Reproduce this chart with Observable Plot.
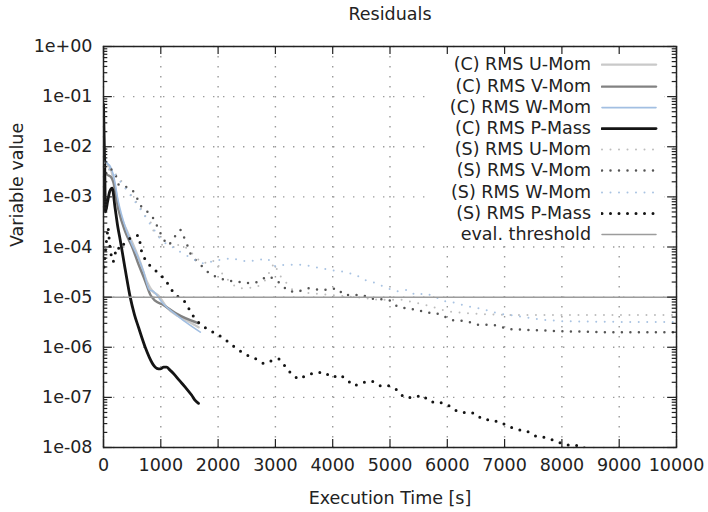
<!DOCTYPE html>
<html>
<head>
<meta charset="utf-8">
<script src="https://cdn.jsdelivr.net/npm/d3@7"></script>
<script src="https://cdn.jsdelivr.net/npm/@observablehq/plot@0.6"></script>
<style>
  body { margin: 0; background: #fff; }
  #wrap { position: relative; width: 708px; height: 512px; font-family: "DejaVu Sans", sans-serif; color: #222; }
  #legend { position: absolute; left: 432px; top: 54px; width: 232px; height: 190px; background: #fff; }
  .row { position: absolute; left: 0; height: 21.2px; width: 232px; }
  .row span { position: absolute; right: 73px; top: 0; line-height: 21.2px; font-size: 17.5px; white-space: nowrap; }
  .row svg { position: absolute; left: 169px; top: 0; }
</style>
</head>
<body>
<div id="wrap"><div id="legend"></div></div>
<script>
// ---------- data ----------
const title = "Residuals";
const xLabel = "Execution Time [s]";
const yLabel = "Variable value";
const xTicks = [0, 1000, 2000, 3000, 4000, 5000, 6000, 7000, 8000, 9000, 10000];
const yTicks = [1e-8, 1e-7, 1e-6, 1e-5, 1e-4, 1e-3, 1e-2, 1e-1, 1];
const threshold = 1e-5;

const cUMomT = [0, 60, 130, 200, 280, 400, 520, 640, 760, 860, 950, 1100, 1300, 1500, 1660];
const cUMomV = [5.0e-3, 4.5e-3, 3.5e-3, 1.6e-3, 5.0e-4, 2.2e-4, 1.1e-4, 5.0e-5, 2.0e-5, 1.3e-5, 1.1e-5, 6.3e-6, 4.2e-6, 3.2e-6, 2.5e-6];

const cVMomT = [0, 60, 130, 170, 260, 380, 500, 611, 720, 820, 900, 1030, 1256, 1430, 1660];
const cVMomV = [3.5e-3, 2.8e-3, 2.5e-3, 2.0e-3, 5.6e-4, 2.0e-4, 1.0e-4, 4.5e-5, 2.2e-5, 1.1e-5, 8.5e-6, 7.1e-6, 4.8e-6, 3.8e-6, 3.0e-6];

const cWMomT = [0, 50, 120, 170, 260, 380, 500, 600, 700, 800, 873, 930, 1030, 1256, 1430, 1690];
const cWMomV = [7.9e-3, 5.0e-3, 4.0e-3, 2.8e-3, 7.9e-4, 2.5e-4, 1.1e-4, 6.3e-5, 3.2e-5, 1.4e-5, 1.3e-5, 1.1e-5, 7.6e-6, 4.6e-6, 3.2e-6, 2.0e-6];

const cPMassT = [0, 20, 35, 70, 110, 152, 200, 250, 291, 380, 466, 540, 611, 728, 800, 873, 930, 990, 1050, 1100, 1160, 1221, 1320, 1426, 1540, 1600, 1658];
const cPMassV = [7.0e-2, 5.0e-3, 5.0e-4, 7.9e-4, 1.3e-3, 1.5e-3, 6.3e-4, 2.5e-4, 1.4e-4, 3.5e-5, 1.0e-5, 4.5e-6, 2.5e-6, 1.0e-6, 6.3e-7, 4.4e-7, 3.8e-7, 3.7e-7, 4.0e-7, 4.0e-7, 3.5e-7, 3.0e-7, 2.2e-7, 1.6e-7, 1.1e-7, 8.7e-8, 7.6e-8];

const sUMomT = [17, 92, 175, 297, 401, 506, 616, 733, 820, 878, 965, 1024, 1112, 1199, 1314, 1431, 1548, 1663, 1750, 1867, 1984, 2042, 2246, 2361, 2508, 2682, 2827, 2972, 3100, 3300, 3600, 4000, 4400, 4800, 5200, 5600, 6000, 6400, 6800, 7200, 8000, 9000, 10000];
const sUMomV = [4.8e-3, 3.5e-3, 3.2e-3, 2.2e-3, 1.4e-3, 1.0e-3, 6.9e-4, 4.1e-4, 3.2e-4, 2.0e-4, 1.6e-4, 1.1e-4, 1.2e-4, 1.1e-4, 1.1e-4, 1.0e-4, 7.4e-5, 5.5e-5, 4.7e-5, 5.4e-5, 5.1e-5, 3.2e-5, 1.8e-5, 1.5e-5, 1.5e-5, 1.6e-5, 2.2e-5, 4.7e-5, 2.5e-5, 1.4e-5, 1.2e-5, 1.1e-5, 1.0e-5, 8.9e-6, 8.9e-6, 7.1e-6, 5.2e-6, 4.7e-6, 4.5e-6, 4.4e-6, 4.4e-6, 4.4e-6, 4.4e-6];

const sVMomT = [17, 92, 209, 267, 384, 501, 588, 675, 763, 850, 937, 1024, 1112, 1169, 1286, 1344, 1401, 1461, 1518, 1605, 1722, 1867, 1954, 2071, 2216, 2391, 2535, 2682, 2857, 3001, 3118, 3233, 3408, 3581, 3757, 3904, 4078, 4193, 4368, 4514, 4689, 4834, 5008, 5125, 5300, 5474, 5619, 5764, 5910, 6055, 6230, 6375, 6521, 6666, 6811, 6957, 7102, 7451, 7975, 8672, 10000];
const sVMomV = [4.0e-3, 4.1e-3, 2.8e-3, 1.7e-3, 1.6e-3, 1.4e-3, 9.3e-4, 5.9e-4, 5.1e-4, 4.1e-4, 2.6e-4, 1.6e-4, 1.1e-4, 1.2e-4, 1.9e-4, 2.2e-4, 1.6e-4, 1.1e-4, 7.4e-5, 5.5e-5, 4.1e-5, 2.8e-5, 2.6e-5, 2.3e-5, 2.1e-5, 2.0e-5, 1.9e-5, 2.0e-5, 2.6e-5, 2.3e-5, 1.7e-5, 1.3e-5, 1.3e-5, 1.5e-5, 1.4e-5, 1.4e-5, 1.5e-5, 1.1e-5, 1.1e-5, 1.1e-5, 9.3e-6, 9.1e-6, 8.5e-6, 6.5e-6, 5.9e-6, 5.6e-6, 4.9e-6, 4.9e-6, 4.4e-6, 3.5e-6, 3.4e-6, 3.2e-6, 2.8e-6, 2.8e-6, 2.8e-6, 2.5e-6, 2.3e-6, 2.2e-6, 2.1e-6, 2.0e-6, 2.0e-6];

const sWMomT = [17, 92, 175, 297, 420, 616, 820, 1024, 1199, 1344, 1500, 1663, 1750, 1984, 2246, 2361, 2508, 2682, 2857, 3001, 3148, 3320, 3495, 3670, 3844, 4000, 4200, 4400, 4550, 4700, 4900, 5100, 5300, 5450, 5620, 5800, 5950, 6100, 6300, 6460, 6620, 6800, 6960, 7200, 7600, 8000, 9000, 10000];
const sWMomV = [5.0e-3, 3.8e-3, 3.0e-3, 2.0e-3, 1.3e-3, 6.3e-4, 2.8e-4, 1.3e-4, 1.0e-4, 7.9e-5, 6.3e-5, 5.0e-5, 4.7e-5, 5.4e-5, 6.0e-5, 5.5e-5, 5.1e-5, 5.5e-5, 5.9e-5, 4.1e-5, 4.4e-5, 4.4e-5, 4.4e-5, 4.0e-5, 3.7e-5, 3.4e-5, 3.2e-5, 2.8e-5, 2.2e-5, 2.0e-5, 1.6e-5, 1.3e-5, 1.4e-5, 1.1e-5, 1.2e-5, 1.0e-5, 8.3e-6, 7.9e-6, 6.8e-6, 6.2e-6, 5.8e-6, 5.0e-6, 4.6e-6, 4.2e-6, 3.6e-6, 3.3e-6, 3.2e-6, 3.2e-6];

const sPMassT = [10, 40, 80, 120, 170, 230, 300, 380, 470, 560, 616, 675, 820, 965, 1082, 1169, 1256, 1401, 1489, 1606, 1810, 1955, 2100, 2245, 2361, 2508, 2653, 2798, 2944, 3060, 3178, 3293, 3409, 3555, 3700, 3846, 3991, 4136, 4253, 4370, 4544, 4690, 4834, 4979, 5126, 5242, 5416, 5563, 5707, 5852, 5999, 6143, 6317, 6462, 6609, 6766, 6928, 7073, 7220, 7394, 7539, 7684, 7859, 8005, 8150, 8325, 8450];
const sPMassV = [4.0e-5, 1.0e-4, 2.5e-4, 7.9e-5, 5.0e-5, 1.0e-4, 8.9e-5, 1.3e-4, 1.5e-4, 1.7e-4, 1.7e-4, 6.9e-5, 4.1e-5, 3.0e-5, 2.2e-5, 1.5e-5, 1.1e-5, 8.7e-6, 5.9e-6, 3.5e-6, 2.3e-6, 1.9e-6, 1.5e-6, 1.1e-6, 8.7e-7, 6.9e-7, 5.9e-7, 4.7e-7, 5.4e-7, 5.9e-7, 4.1e-7, 2.8e-7, 2.3e-7, 2.8e-7, 3.1e-7, 3.2e-7, 2.5e-7, 2.8e-7, 2.2e-7, 1.7e-7, 2.0e-7, 2.1e-7, 1.7e-7, 1.7e-7, 1.4e-7, 1.0e-7, 1.0e-7, 1.1e-7, 8.1e-8, 8.1e-8, 7.2e-8, 5.5e-8, 4.9e-8, 4.9e-8, 3.7e-8, 3.5e-8, 3.2e-8, 2.6e-8, 2.3e-8, 2.1e-8, 1.7e-8, 1.6e-8, 1.4e-8, 1.2e-8, 1.1e-8, 1.1e-8, 8.9e-9];

const seriesNames = ["(C) RMS U-Mom", "(C) RMS V-Mom", "(C) RMS W-Mom", "(C) RMS P-Mass",
                     "(S) RMS U-Mom", "(S) RMS V-Mom", "(S) RMS W-Mom", "(S) RMS P-Mass"];
const thresholdLabel = "eval. threshold";

// ---------- styles ----------
const styles = {
  "(C) RMS U-Mom": {stroke: "#c9c9c9", width: 2.4, dash: null, curve: "monotone-x"},
  "(C) RMS V-Mom": {stroke: "#828282", width: 2.4, dash: null, curve: "monotone-x"},
  "(C) RMS W-Mom": {stroke: "#a2bfe2", width: 1.6, dash: null, curve: "monotone-x"},
  "(C) RMS P-Mass": {stroke: "#141414", width: 2.8, dash: null, curve: "monotone-x"},
  "(S) RMS U-Mom": {stroke: "#bdbdbd", width: 2.0, dash: "0,8.5", curve: "linear"},
  "(S) RMS V-Mom": {stroke: "#555555", width: 2.5, dash: "0,8.5", curve: "linear"},
  "(S) RMS W-Mom": {stroke: "#a9c3e2", width: 2.0, dash: "0,8.5", curve: "linear"},
  "(S) RMS P-Mass": {stroke: "#141414", width: 3.0, dash: "0,8.5", curve: "linear"},
  [thresholdLabel]: {stroke: "#9c9c9c", width: 1.5, dash: null, curve: "linear"}
};

const seriesData = [
  [cUMomT, cUMomV], [cVMomT, cVMomV], [cWMomT, cWMomV], [cPMassT, cPMassV],
  [sUMomT, sUMomV], [sVMomT, sVMomV], [sWMomT, sWMomV], [sPMassT, sPMassV]
];
const rows = seriesNames.flatMap((name, i) =>
  seriesData[i][0].map((t, j) => ({series: name, t, v: seriesData[i][1][j]})));

// decorations
const expFmt = d => {
  const e = Math.round(Math.log10(d));
  return "1e" + (e < 0 ? "-" : "+") + String(Math.abs(e)).padStart(2, "0");
};
const yMinor = yTicks.slice(0, -1).flatMap(d => [2, 3, 4, 5, 6, 7, 8, 9].map(m => m * d));
const majX = 155, minX = 75;           // tick length in x units
const majY = 1.45, minY = 1.2;         // tick length as log factor
const tickStyle = {stroke: "#222", strokeWidth: 1.2};
const FS = 17.5;

const lineMarks = seriesNames.map(name => {
  const s = styles[name];
  return Plot.line(rows.filter(r => r.series === name), {
    x: "t", y: "v", stroke: s.stroke, strokeWidth: s.width,
    strokeDasharray: s.dash, strokeLinecap: "round", strokeLinejoin: "round",
    curve: s.curve, clip: true
  });
});

const plot = Plot.plot({
  width: 708, height: 512,
  marginLeft: 103, marginRight: 32, marginTop: 46, marginBottom: 65,
  x: {domain: [0, 10000]},
  y: {type: "log", domain: [1e-8, 1]},
  style: {fontFamily: "DejaVu Sans, sans-serif", fontSize: FS + "px", color: "#222", background: "transparent", overflow: "visible"},
  marks: [
    Plot.ruleX(xTicks, {stroke: "#9a9a9a", strokeWidth: 1.4, strokeDasharray: "1.4,8.6"}),
    Plot.ruleY(yTicks, {stroke: "#9a9a9a", strokeWidth: 1.4, strokeDasharray: "1.4,8.6"}),
    ...lineMarks,
    Plot.ruleY([threshold], {stroke: styles[thresholdLabel].stroke, strokeWidth: styles[thresholdLabel].width}),
    Plot.ruleY(yTicks, {x1: 0, x2: majX, ...tickStyle}),
    Plot.ruleY(yTicks, {x1: 10000 - majX, x2: 10000, ...tickStyle}),
    Plot.ruleY(yMinor, {x1: 0, x2: minX, ...tickStyle}),
    Plot.ruleY(yMinor, {x1: 10000 - minX, x2: 10000, ...tickStyle}),
    Plot.ruleX(xTicks, {y1: 1e-8, y2: 1e-8 * majY, ...tickStyle}),
    Plot.ruleX(xTicks, {y1: 1 / majY, y2: 1, ...tickStyle}),
    Plot.frame({stroke: "#222", strokeWidth: 1.5}),
    Plot.axisX(xTicks, {tickSize: 0, tickPadding: 11, label: null, tickFormat: d => String(d), fontSize: FS}),
    Plot.axisY(yTicks, {tickSize: 0, tickPadding: 11, label: null, tickFormat: expFmt, fontSize: FS}),
    Plot.text([title], {frameAnchor: "top", lineAnchor: "middle", dy: -32, text: d => d, fontSize: FS}),
    Plot.text([yLabel], {frameAnchor: "left", lineAnchor: "middle", dx: -86, rotate: -90, text: d => d, fontSize: FS}),
    Plot.text([xLabel], {frameAnchor: "bottom", lineAnchor: "middle", dy: 51, text: d => d, fontSize: FS})
  ]
});
const wrap = document.getElementById("wrap");
wrap.insertBefore(plot, wrap.firstChild);

// legend (gnuplot-style key, opaque)
const legend = document.getElementById("legend");
[...seriesNames, thresholdLabel].forEach((name, i) => {
  const s = styles[name];
  const row = document.createElement("div");
  row.className = "row";
  row.style.top = (0.4 + i * 21.2) + "px";
  const span = document.createElement("span");
  span.textContent = name;
  row.appendChild(span);
  const svg = d3.create("svg").attr("width", 60).attr("height", 21.2);
  svg.append("line").attr("x1", 1).attr("x2", 55).attr("y1", 10.6).attr("y2", 10.6)
    .attr("stroke", s.stroke).attr("stroke-width", s.width)
    .attr("stroke-dasharray", s.dash).attr("stroke-linecap", "round");
  row.appendChild(svg.node());
  legend.appendChild(row);
});
</script>
</body>
</html>
